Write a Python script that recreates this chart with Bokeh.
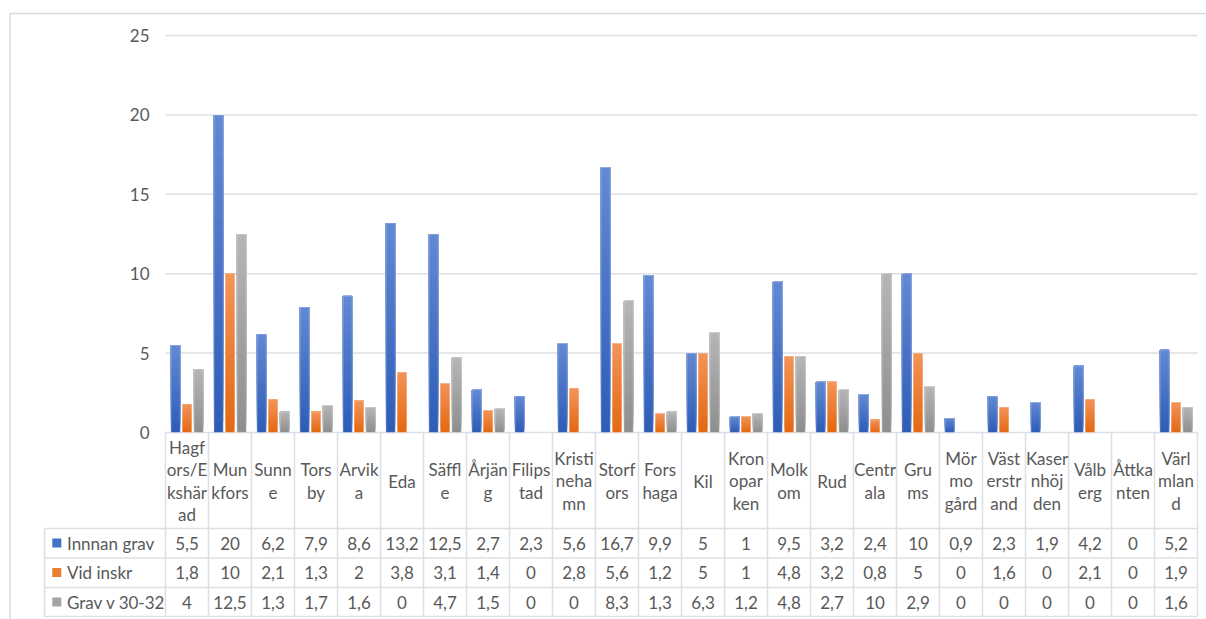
from bokeh.plotting import figure
from bokeh.models import Range1d
from bokeh.embed import file_html
from bokeh.resources import INLINE
from bokeh.core.properties import value

# ---------------- data ----------------
categories = ["Hagf\nors/E\nkshär\nad", "Mun\nkfors", "Sunn\ne", "Tors\nby", "Arvik\na",
              "Eda", "Säffl\ne", "Årjän\ng", "Filips\ntad", "Kristi\nneha\nmn",
              "Storf\nors", "Fors\nhaga", "Kil", "Kron\nopar\nken", "Molk\nom",
              "Rud", "Centr\nala", "Gru\nms", "Mör\nmo\ngård", "Väst\nerstr\nand",
              "Kaser\nnhöj\nden", "Vålb\nerg", "Åttka\nnten", "Värl\nmlan\nd"]
innan_grav = [5.5, 20, 6.2, 7.9, 8.6, 13.2, 12.5, 2.7, 2.3, 5.6, 16.7, 9.9,
              5, 1, 9.5, 3.2, 2.4, 10, 0.9, 2.3, 1.9, 4.2, 0, 5.2]
vid_inskr = [1.8, 10, 2.1, 1.3, 2, 3.8, 3.1, 1.4, 0, 2.8, 5.6, 1.2,
             5, 1, 4.8, 3.2, 0.8, 5, 0, 1.6, 0, 2.1, 0, 1.9]
grav_v30_32 = [4, 12.5, 1.3, 1.7, 1.6, 0, 4.7, 1.5, 0, 0, 8.3, 1.3,
               6.3, 1.2, 4.8, 2.7, 10, 2.9, 0, 0, 0, 0, 0, 1.6]
series_names = ["Innnan grav", "Vid inskr", "Grav v 30-32"]
y_ticks = [0, 5, 10, 15, 20, 25]

# ---------------- layout / style ----------------
W, H = 1206, 619
OFF = 0
X0, CW = 165.0, 43.0      # page x of first category edge, px per category
Y0, YU = 432.0, 15.88     # page y of value 0, px per unit

def dx(px):
    return (px - X0) / CW

def dy(py):
    return (Y0 - py) / YU

FONT = value("Lato")
TXT = "#595959"
GRID = "#dcdfe4"
FS = "17px"

series_vals = [innan_grav, vid_inskr, grav_v30_32]
top_cols = [(0x63, 0x89, 0xD4), (0xF3, 0x94, 0x5A), (0xB6, 0xB6, 0xB6)]
bot_cols = [(0x2D, 0x5C, 0xB6), (0xE4, 0x68, 0x10), (0x8E, 0x8E, 0x8E)]
legend_cols = ["#4472C4", "#ED7D31", "#A5A5A5"]
offsets = [-0.265, 0.0, 0.27]
bar_w = 0.218

p = figure(width=W, height=H, output_backend="svg", toolbar_location=None,
           x_range=Range1d(dx(OFF), dx(OFF + W)), y_range=Range1d(dy(OFF + H), dy(OFF)),
           x_axis_location=None, y_axis_location=None, min_border=0)
p.outline_line_color = None
p.grid.visible = False
p.background_fill_color = "white"

# outer chart border
p.segment(x0=[dx(9.5), dx(9.5)], y0=[dy(13), dy(13)], x1=[dx(1206), dx(9.5)], y1=[dy(13), dy(640)],
          line_color="#d9d9d9", line_width=1.5)

# gridlines
gx0 = [dx(165)] * len(y_ticks)
gx1 = [dx(1197)] * len(y_ticks)
p.segment(x0=gx0, x1=gx1, y0=y_ticks, y1=y_ticks, line_color=GRID, line_width=1.5)

# y tick labels
p.text(x=[dx(149)] * len(y_ticks), y=y_ticks, text=[str(t) for t in y_ticks],
       text_align="right", text_baseline="middle", text_font=FONT,
       text_font_size=FS, text_color=TXT)

# bars with vertical gradient (each layer covers from its start to the bar top)
N = 30
xs_base = [i + 0.5 for i in range(len(categories))]
for s, vals in enumerate(series_vals):
    idx = [i for i, v in enumerate(vals) if v > 0]
    xs = [xs_base[i] + offsets[s] for i in idx]
    vv = [vals[i] for i in idx]
    for k in range(N):
        f = (k + 0.5) / N
        c = tuple(int(round(bot_cols[s][j] + (top_cols[s][j] - bot_cols[s][j]) * f)) for j in range(3))
        col = "#%02x%02x%02x" % c
        p.vbar(x=xs, width=bar_w, bottom=[v * k / N for v in vv], top=vv,
               fill_color=col, line_color=None)
    p.vbar(x=xs, width=bar_w, bottom=0, top=vv, fill_color=None,
           line_color="white", line_alpha=0.45, line_width=0.8)

# data table
ncat = len(categories)
row_lines = [528, 557.5, 587, 616]
row_centers = [542.5, 572, 601.5]
p.segment(x0=list(range(ncat + 1)), x1=list(range(ncat + 1)),
          y0=[dy(432)] * (ncat + 1), y1=[dy(616)] * (ncat + 1), line_color=GRID, line_width=1.5)
p.segment(x0=[dx(44)], x1=[dx(44)], y0=[dy(528)], y1=[dy(616)], line_color=GRID, line_width=1.5)
p.segment(x0=[dx(44)] * len(row_lines), x1=[ncat] * len(row_lines),
          y0=[dy(r) for r in row_lines], y1=[dy(r) for r in row_lines],
          line_color=GRID, line_width=1.5)

# category labels
p.text(x=xs_base, y=[dy(480.5)] * ncat, text=categories, text_align="center",
       text_baseline="middle", text_font=FONT, text_font_size=FS,
       text_color=TXT, text_line_height=1.07)

def fmt(v):
    return ("%g" % v).replace(".", ",")

for s, vals in enumerate(series_vals):
    yc = dy(row_centers[s])
    p.text(x=xs_base, y=[yc] * ncat, text=[fmt(v) for v in vals], text_align="center",
           text_baseline="middle", text_font=FONT, text_font_size=FS, text_color=TXT)
    p.scatter(x=[dx(56.3)], y=[yc], marker="square", size=9, fill_color=legend_cols[s],
              line_color=None)
    p.text(x=[dx(66.5)], y=[yc], text=[series_names[s]], text_align="left",
           text_baseline="middle", text_font=FONT, text_font_size=FS, text_color=TXT)

open("out.html", "w").write(file_html(p, INLINE))
